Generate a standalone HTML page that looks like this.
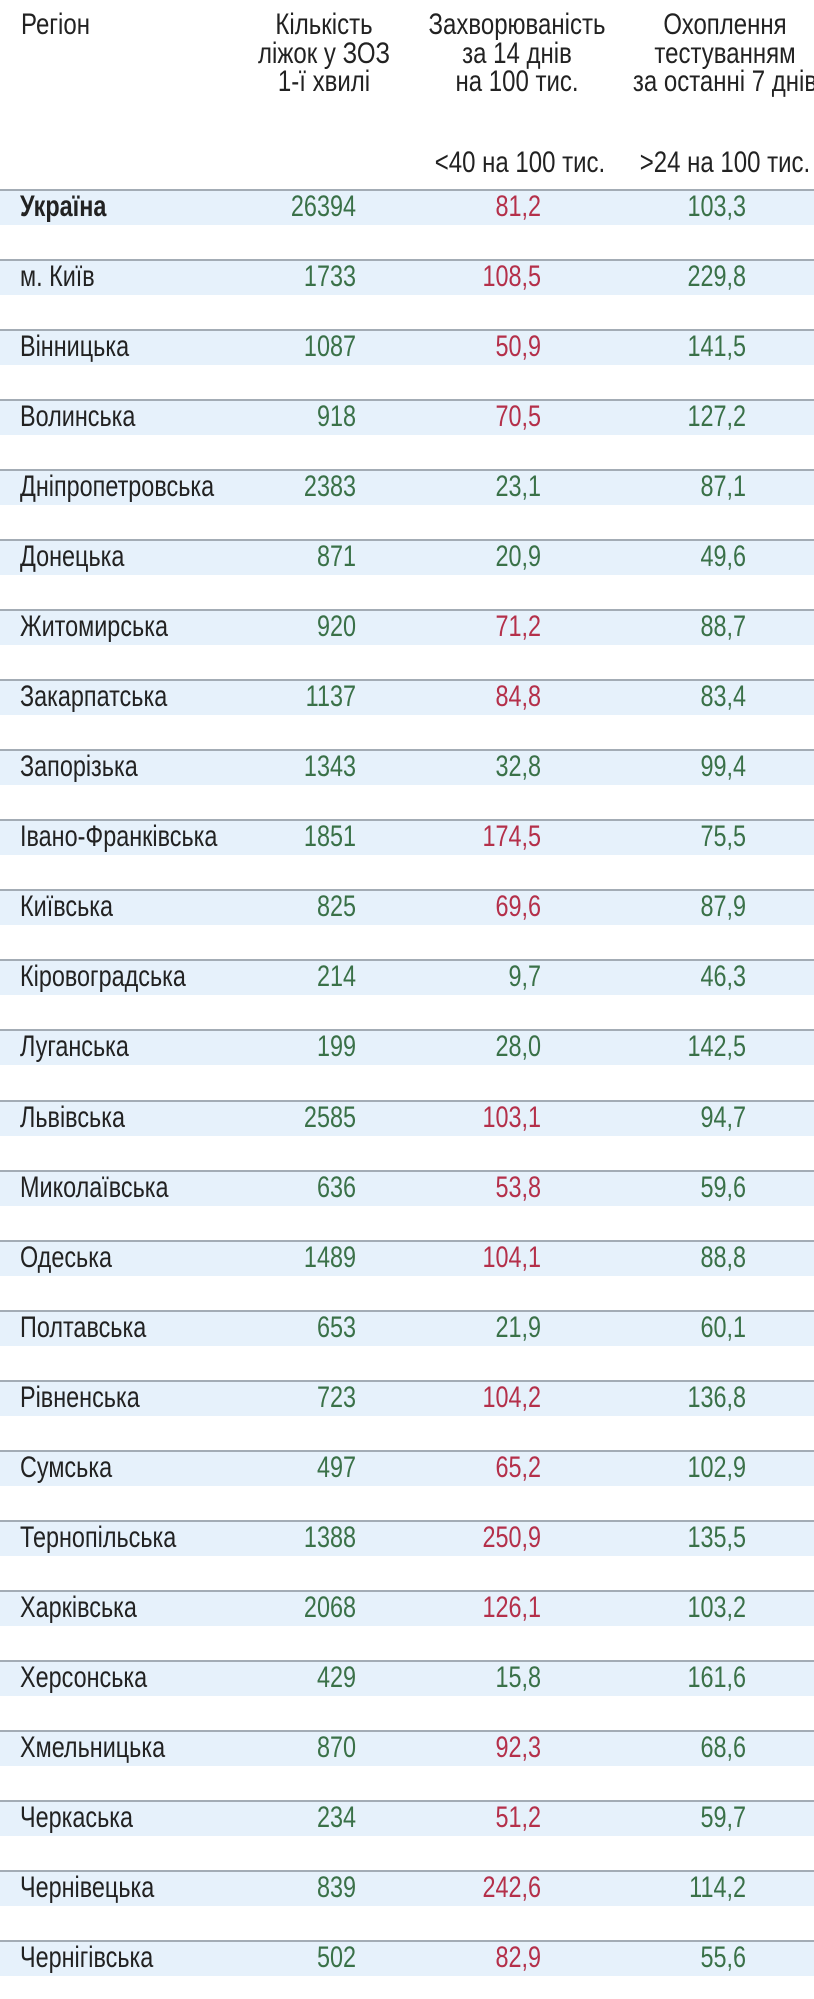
<!DOCTYPE html>
<html><head><meta charset="utf-8"><style>
body{margin:0;width:814px;height:1999px;background:#fff;position:relative;overflow:hidden;font-family:"Liberation Sans",sans-serif;font-size:30px;color:#222}
.h{position:absolute;text-align:center;line-height:28.5px;white-space:nowrap;transform:scaleX(0.8);transform-origin:center top}
.band{position:absolute;left:0;width:814px;height:34px;background:#e6f1fb;border-top:2px solid #a3acb5}
.t{position:absolute;line-height:28px;white-space:nowrap;transform:scaleX(0.78);transform-origin:left top}
.n{position:absolute;line-height:28px;text-align:right;width:150px;white-space:nowrap;transform:scaleX(0.78);transform-origin:right top}
.g{color:#3a7148}.r{color:#b4304a}
</style></head><body>
<div class="h" style="left:21px;top:11px;text-align:left;transform-origin:left top">Регіон</div>
<div class="h" style="left:174px;width:300px;top:11px">Кількість<br>ліжок у ЗОЗ<br>1-ї хвилі</div>
<div class="h" style="left:367px;width:300px;top:11px">Захворюваність<br>за 14 днів<br>на 100 тис.</div>
<div class="h" style="left:575px;width:300px;top:11px">Охоплення<br>тестуванням<br>за останні 7 днів</div>
<div class="h" style="left:370px;width:300px;top:149px">&lt;40 на 100 тис.</div>
<div class="h" style="left:575px;width:300px;top:149px">&gt;24 на 100 тис.</div>
<div id="rows"></div>
<script>
var d=[["Україна","26394","81,2","103,3",1],["м. Київ","1733","108,5","229,8"],["Вінницька","1087","50,9","141,5"],["Волинська","918","70,5","127,2"],["Дніпропетровська","2383","23,1","87,1"],["Донецька","871","20,9","49,6"],["Житомирська","920","71,2","88,7"],["Закарпатська","1137","84,8","83,4"],["Запорізька","1343","32,8","99,4"],["Івано-Франківська","1851","174,5","75,5"],["Київська","825","69,6","87,9"],["Кіровоградська","214","9,7","46,3"],["Луганська","199","28,0","142,5"],["Львівська","2585","103,1","94,7"],["Миколаївська","636","53,8","59,6"],["Одеська","1489","104,1","88,8"],["Полтавська","653","21,9","60,1"],["Рівненська","723","104,2","136,8"],["Сумська","497","65,2","102,9"],["Тернопільська","1388","250,9","135,5"],["Харківська","2068","126,1","103,2"],["Херсонська","429","15,8","161,6"],["Хмельницька","870","92,3","68,6"],["Черкаська","234","51,2","59,7"],["Чернівецька","839","242,6","114,2"],["Чернігівська","502","82,9","55,6"]];
var h="";
d.forEach(function(r,i){var y=189+i*70.04;
var b=r[4]?"font-weight:bold;":"";
h+='<div class="band" style="top:'+y+'px"></div>';
var ty=y+4;
h+='<div class="t" style="left:20px;top:'+ty+'px;'+b+'">'+r[0]+'</div>';
var c2=parseFloat(r[2].replace(",","."))<40?"g":"r";
var c3=parseFloat(r[3].replace(",","."))>24?"g":"r";
h+='<div class="n g" style="left:206px;top:'+ty+'px;">'+r[1]+'</div>';
h+='<div class="n '+c2+'" style="left:391px;top:'+ty+'px;">'+r[2]+'</div>';
h+='<div class="n '+c3+'" style="left:596px;top:'+ty+'px;">'+r[3]+'</div>';
});
document.getElementById("rows").innerHTML=h;
</script>
</body></html>
